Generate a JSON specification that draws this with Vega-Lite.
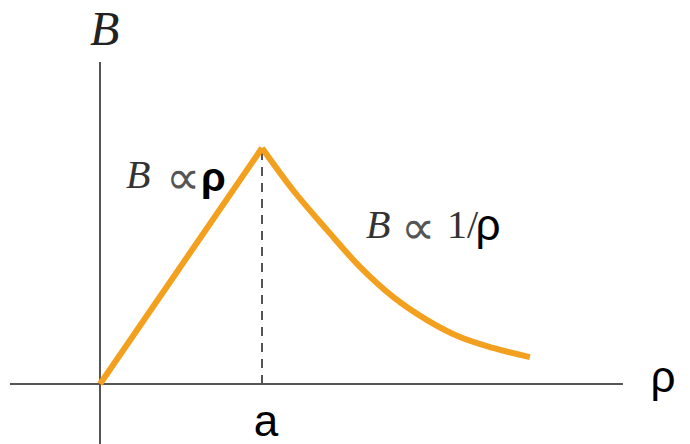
{
  "$schema": "https://vega.github.io/schema/vega-lite/v6.json",
  "width": 690,
  "height": 444,
  "padding": 0,
  "autosize": {"type": "none"},
  "background": "white",
  "config": {"view": {"stroke": null}},
  "datasets": {
    "axes": [
      {"x": -0.556, "x2": 3.228, "y": 0, "y2": 0},
      {"x": 0, "x2": 0, "y": -0.254, "y2": 1.364}
    ],
    "dash": [{"x": 1, "y": 0, "y2": 1}],
    "rise": [{"rho": 0, "B": 0}, {"rho": 1, "B": 1}],
    "fall": [
      {"rho": 1.0, "B": 1.0},
      {"rho": 1.191, "B": 0.822},
      {"rho": 1.401, "B": 0.653},
      {"rho": 1.605, "B": 0.496},
      {"rho": 1.809, "B": 0.369},
      {"rho": 2.019, "B": 0.271},
      {"rho": 2.222, "B": 0.199},
      {"rho": 2.426, "B": 0.153},
      {"rho": 2.654, "B": 0.114}
    ],
    "italic": [
      {"x": -0.062, "y": 1.436, "t": "B", "s": "big"},
      {"x": 0.16, "y": 0.83, "t": "B", "s": "mid"},
      {"x": 1.642, "y": 0.619, "t": "B", "s": "mid"}
    ],
    "prop": [
      {"x": 0.407, "y": 0.83, "t": "∝"},
      {"x": 1.858, "y": 0.619, "t": "∝"}
    ],
    "upright": [
      {"x": 2.142, "y": 0.619, "t": "1/"}
    ],
    "sans": [
      {"x": 3.475, "y": -0.034, "t": "ρ", "a": "left"},
      {"x": 1.025, "y": -0.222, "t": "a", "a": "center"},
      {"x": 2.395, "y": 0.61, "t": "ρ", "a": "left"}
    ],
    "sansBold": [
      {"x": 0.623, "y": 0.818, "t": "ρ"}
    ]
  },
  "layer": [
    {
      "data": {"name": "axes"},
      "mark": {"type": "rule", "color": "#555555", "strokeWidth": 2},
      "encoding": {
        "x": {"field": "x", "type": "quantitative", "axis": null, "scale": {"domain": [-0.6173, 3.642], "nice": false, "zero": false}},
        "x2": {"field": "x2"},
        "y": {"field": "y", "type": "quantitative", "axis": null, "scale": {"domain": [-0.2542, 1.6271], "nice": false, "zero": false}},
        "y2": {"field": "y2"}
      }
    },
    {
      "data": {"name": "dash"},
      "mark": {"type": "rule", "color": "#555555", "strokeWidth": 2, "strokeDash": [9, 7]},
      "encoding": {
        "x": {"field": "x", "type": "quantitative", "axis": null},
        "y": {"field": "y", "type": "quantitative", "axis": null},
        "y2": {"field": "y2"}
      }
    },
    {
      "data": {"name": "rise"},
      "mark": {"type": "line", "color": "#F2A01E", "strokeWidth": 6, "strokeCap": "butt", "strokeJoin": "miter"},
      "encoding": {
        "x": {"field": "rho", "type": "quantitative", "axis": null},
        "y": {"field": "B", "type": "quantitative", "axis": null}
      }
    },
    {
      "data": {"name": "fall"},
      "mark": {"type": "line", "color": "#F2A01E", "strokeWidth": 6, "strokeCap": "butt", "interpolate": "monotone"},
      "encoding": {
        "x": {"field": "rho", "type": "quantitative", "axis": null},
        "y": {"field": "B", "type": "quantitative", "axis": null}
      }
    },
    {
      "data": {"name": "italic"},
      "transform": [{"filter": "datum.s == 'big'"}],
      "mark": {"type": "text", "font": "Liberation Serif", "fontStyle": "italic", "fontSize": 48, "align": "left", "baseline": "alphabetic", "color": "#222222"},
      "encoding": {
        "x": {"field": "x", "type": "quantitative", "axis": null},
        "y": {"field": "y", "type": "quantitative", "axis": null},
        "text": {"field": "t"}
      }
    },
    {
      "data": {"name": "italic"},
      "transform": [{"filter": "datum.s == 'mid'"}],
      "mark": {"type": "text", "font": "Liberation Serif", "fontStyle": "italic", "fontSize": 40, "align": "left", "baseline": "alphabetic", "color": "#333333"},
      "encoding": {
        "x": {"field": "x", "type": "quantitative", "axis": null},
        "y": {"field": "y", "type": "quantitative", "axis": null},
        "text": {"field": "t"}
      }
    },
    {
      "data": {"name": "prop"},
      "mark": {"type": "text", "font": "Liberation Serif", "fontSize": 48, "dy": 6, "align": "left", "baseline": "alphabetic", "color": "#555555"},
      "encoding": {
        "x": {"field": "x", "type": "quantitative", "axis": null},
        "y": {"field": "y", "type": "quantitative", "axis": null},
        "text": {"field": "t"}
      }
    },
    {
      "data": {"name": "upright"},
      "mark": {"type": "text", "font": "Liberation Serif", "fontSize": 40, "align": "left", "baseline": "alphabetic", "color": "#333333"},
      "encoding": {
        "x": {"field": "x", "type": "quantitative", "axis": null},
        "y": {"field": "y", "type": "quantitative", "axis": null},
        "text": {"field": "t"}
      }
    },
    {
      "data": {"name": "sans"},
      "mark": {"type": "text", "font": "Liberation Sans", "fontSize": 44, "baseline": "alphabetic", "color": "#000000"},
      "encoding": {
        "x": {"field": "x", "type": "quantitative", "axis": null},
        "y": {"field": "y", "type": "quantitative", "axis": null},
        "text": {"field": "t"},
        "align": {"field": "a", "type": "nominal", "scale": null}
      }
    },
    {
      "data": {"name": "sansBold"},
      "mark": {"type": "text", "font": "Liberation Sans", "fontWeight": "bold", "fontSize": 40, "align": "left", "baseline": "alphabetic", "color": "#000000"},
      "encoding": {
        "x": {"field": "x", "type": "quantitative", "axis": null},
        "y": {"field": "y", "type": "quantitative", "axis": null},
        "text": {"field": "t"}
      }
    }
  ]
}
